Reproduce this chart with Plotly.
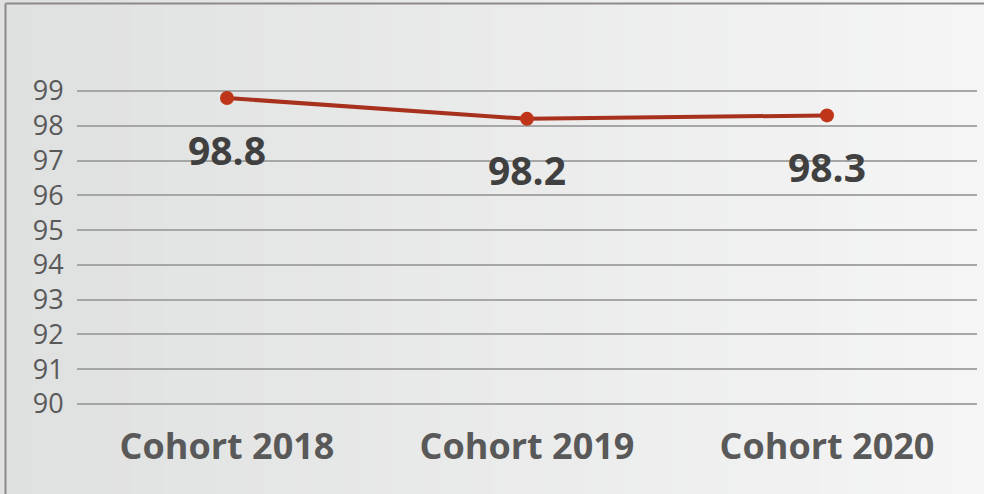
import plotly.graph_objects as go

categories = ["Cohort 2018", "Cohort 2019", "Cohort 2020"]
values = [98.8, 98.2, 98.3]
labels = ["98.8", "98.2", "98.3"]
y_ticks = [90, 91, 92, 93, 94, 95, 96, 97, 98, 99]

W, H = 984, 494
L, R, T, B = 77, 7, 90, 89
pw, ph = W - L - R, H - T - B

def px_to_paper_x(px):
    return (px - L) / pw

def px_to_paper_y(py):
    return 1 - (py - T) / ph

fig = go.Figure()
fig.add_trace(go.Scatter(
    x=categories, y=values, mode="lines+markers",
    line=dict(color="#A8311D", width=4),
    marker=dict(color="#BE3519", size=14),
    hoverinfo="skip", showlegend=False,
))

for c, v, t in zip(categories, values, labels):
    fig.add_annotation(x=c, y=v, text="<b>%s</b>" % t, showarrow=False,
                       yshift=-51, font=dict(family="Open Sans", size=39, color="#404040"))

shapes = []
# horizontal gradient background
n = 60
c0 = (0xDF, 0xE0, 0xE0)
c1 = (0xF5, 0xF5, 0xF5)
for i in range(n):
    f = i / (n - 1)
    col = "rgb(%d,%d,%d)" % tuple(int(round(a + (b - a) * f)) for a, b in zip(c0, c1))
    x0 = px_to_paper_x(W * i / n)
    x1 = px_to_paper_x(W * (i + 1) / n + 1)
    shapes.append(dict(type="rect", xref="paper", yref="paper", x0=x0, x1=x1,
                       y0=px_to_paper_y(H), y1=px_to_paper_y(0),
                       fillcolor=col, line=dict(width=0), layer="below"))
# frame border (left and top)
shapes.append(dict(type="line", xref="paper", yref="paper",
                   x0=px_to_paper_x(5.5), x1=px_to_paper_x(5.5),
                   y0=px_to_paper_y(H), y1=px_to_paper_y(3.5),
                   line=dict(color="#8E8989", width=2), layer="above"))
shapes.append(dict(type="line", xref="paper", yref="paper",
                   x0=px_to_paper_x(5.5), x1=px_to_paper_x(W),
                   y0=px_to_paper_y(3.5), y1=px_to_paper_y(3.5),
                   line=dict(color="#8E8989", width=2), layer="above"))

fig.update_layout(
    width=W, height=H,
    margin=dict(l=L, r=R, t=T, b=B),
    paper_bgcolor="rgba(0,0,0,0)", plot_bgcolor="rgba(0,0,0,0)",
    shapes=shapes,
    xaxis=dict(type="category", range=[-0.5, 2.5], showgrid=False, zeroline=False,
               showline=False, ticks="outside", ticklen=10, tickcolor="rgba(0,0,0,0)",
               tickfont=dict(family="Open Sans", size=36, color="#595959"),
               tickprefix="<b>", ticksuffix="</b>"),
    yaxis=dict(range=[89.97, 99.03], tickvals=y_ticks, showgrid=True, gridcolor="#A6A6A6",
               gridwidth=2, zeroline=False, showline=False, ticks="outside", ticklen=7,
               tickcolor="rgba(0,0,0,0)",
               tickfont=dict(family="Open Sans", size=27, color="#595959")),
)

fig.write_html("out.html", config={"displayModeBar": False},
               post_script="document.body.style.margin='0';document.body.style.padding='0';"
                           "document.body.style.background='#e4e4e4';"
                           "document.body.style.overflow='hidden';")
